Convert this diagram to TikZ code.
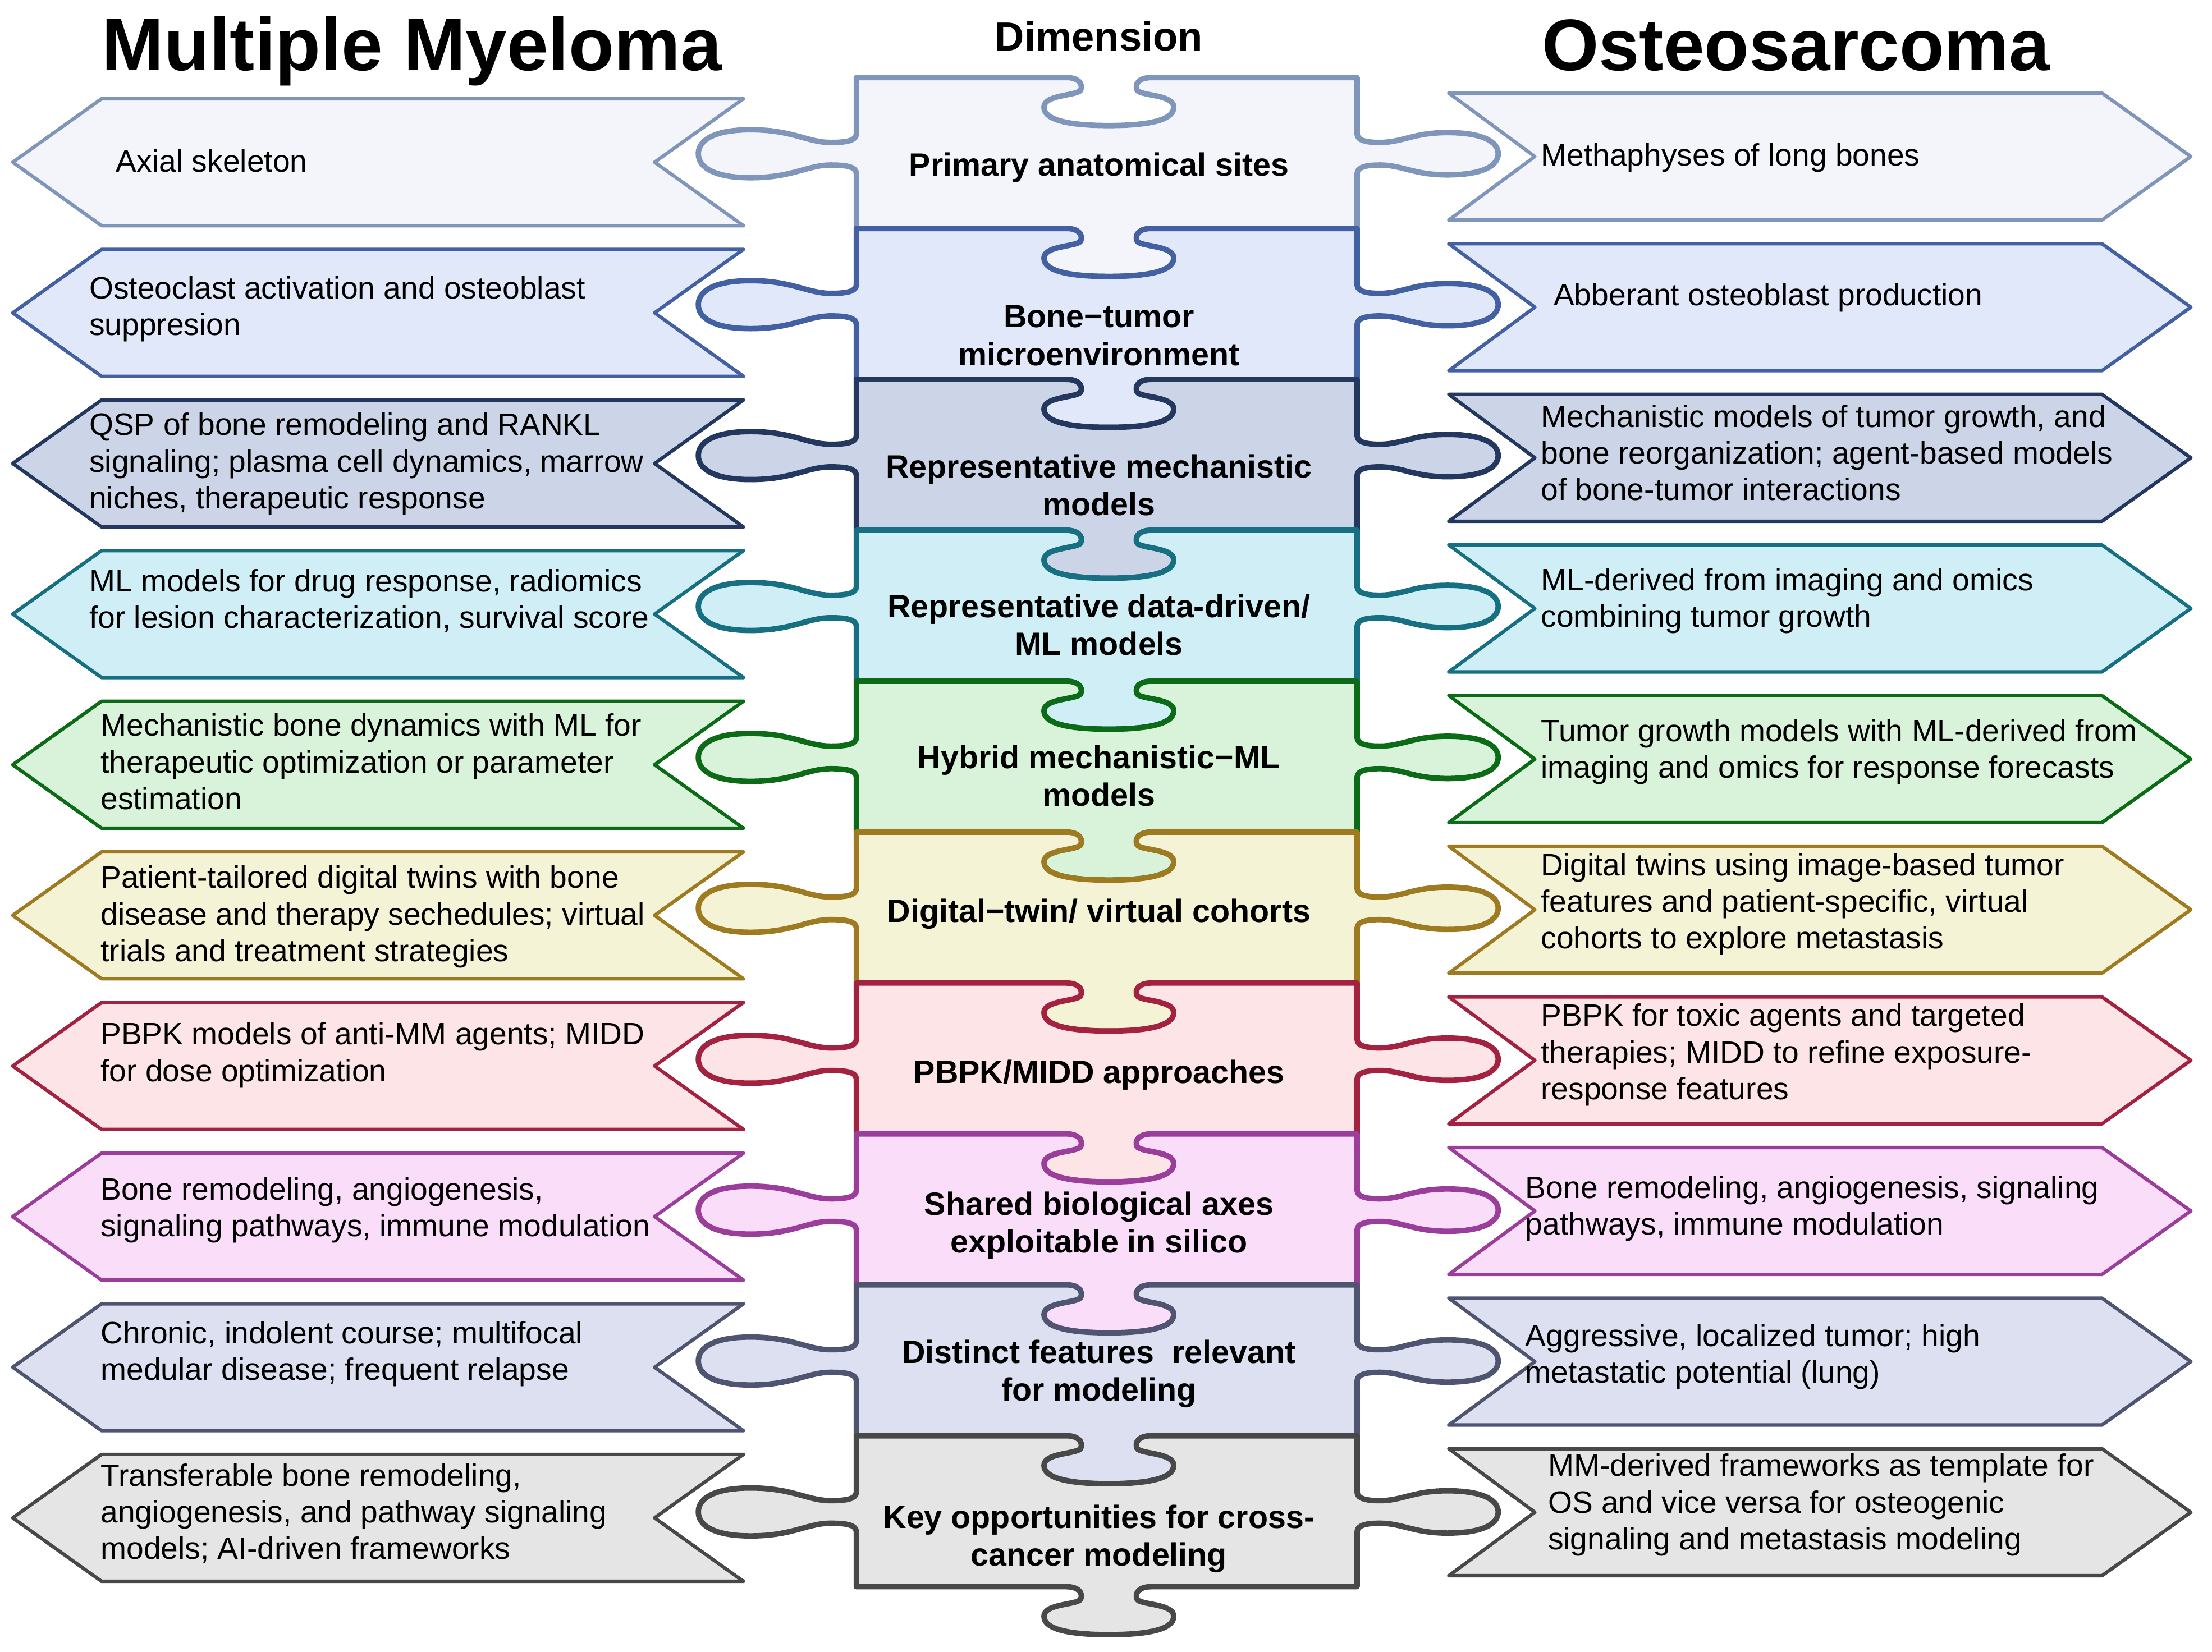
\documentclass[tikz,border=0pt]{standalone}
\usepackage{fontspec}
\setmainfont{Liberation Sans}
\definecolor{ln1}{HTML}{7F95BA} \definecolor{fl1}{HTML}{F4F5FA}
\definecolor{ln2}{HTML}{4360A3} \definecolor{fl2}{HTML}{E1E8FA}
\definecolor{ln3}{HTML}{23375F} \definecolor{fl3}{HTML}{CCD5E8}
\definecolor{ln4}{HTML}{177082} \definecolor{fl4}{HTML}{CFEEF6}
\definecolor{ln5}{HTML}{0B6B16} \definecolor{fl5}{HTML}{D8F3DA}
\definecolor{ln6}{HTML}{9E7B21} \definecolor{fl6}{HTML}{F5F3D5}
\definecolor{ln7}{HTML}{A3223F} \definecolor{fl7}{HTML}{FDE4E7}
\definecolor{ln8}{HTML}{9B3E9B} \definecolor{fl8}{HTML}{FADDF8}
\definecolor{ln9}{HTML}{4F5570} \definecolor{fl9}{HTML}{DDE0F0}
\definecolor{ln10}{HTML}{484848} \definecolor{fl10}{HTML}{E5E5E5}
\tikzset{
  x=0.02cm,
  y=-0.02cm,
  piece/.style={line width=2.2pt, line join=round},
  chevron/.style={line width=1.4pt, line join=round},
  side text/.style={anchor=west, align=left, inner sep=0pt,
    font=\fontsize{12.5}{14.8}\selectfont},
  dim text/.style={align=center, inner sep=0pt,
    font=\bfseries\fontsize{13}{15.3}\selectfont},
  heading/.style={anchor=base, inner sep=0pt, font=\bfseries\fontsize{30}{36}\selectfont},
}
% one jigsaw piece of the middle column: #1 top edge, #2 colour number
\newcommand{\puzzlepiece}[2]{%
  \draw[piece, draw=ln#2, fill=fl#2, shift={(0,#1)}]
    (607,0) -- (756,0)
    .. controls (764,0) and (768,4) .. (766,9)
    .. controls (763,13) and (740,12) .. (740,21)
    .. controls (740,31) and (761,34) .. (786,34)
    .. controls (811,34) and (832,31) .. (832,21)
    .. controls (832,12) and (809,13) .. (806,9)
    .. controls (804,4) and (808,0) .. (816,0)
    -- (962,0) -- (962,40)
    .. controls (962,45) and (970,46) .. (978,46)
    .. controls (994,46) and (1002,39) .. (1026,39)
    .. controls (1050,39) and (1062,45) .. (1062,54)
    .. controls (1062,63) and (1050,69) .. (1026,69)
    .. controls (1002,69) and (994,62) .. (978,62)
    .. controls (970,62) and (962,63) .. (962,68)
    -- (962,107) -- (816,107)
    .. controls (808,107) and (804,111) .. (806,116)
    .. controls (809,120) and (832,119) .. (832,128)
    .. controls (832,138) and (811,141) .. (786,141)
    .. controls (761,141) and (740,138) .. (740,128)
    .. controls (740,119) and (763,120) .. (766,116)
    .. controls (768,111) and (764,107) .. (756,107)
    -- (607,107) -- (607,68)
    .. controls (607,63) and (599,62) .. (589,62)
    .. controls (572,62) and (562,71) .. (532,71)
    .. controls (507,71) and (495,64) .. (495,54)
    .. controls (495,44) and (507,37) .. (532,37)
    .. controls (562,37) and (572,46) .. (589,46)
    .. controls (599,46) and (607,45) .. (607,40)
    -- cycle;
}

\begin{document}
\begin{tikzpicture}
  \useasboundingbox (0,0) rectangle (1568,1171);

  \foreach \k in {1,...,10}{
    \pgfmathsetmacro\piecetop{55+107*(\k-1)}
    \pgfmathsetmacro\mmtop{70+106.8*(\k-1)}
    \pgfmathsetmacro\ostop{66+106.8*(\k-1)}
    \draw[chevron, draw=ln\k, fill=fl\k, shift={(0,\mmtop)}]
      (72,0) -- (527,0) -- (464,45) -- (527,90) -- (72,90) -- (9,45) -- cycle;
    \draw[chevron, draw=ln\k, fill=fl\k, shift={(0,\ostop)}]
      (1027,0) -- (1490,0) -- (1553,45) -- (1490,90) -- (1027,90) -- (1088,45) -- cycle;
    \puzzlepiece{\piecetop}{\k}
  }

  \node[heading] (mmhead)  at (292,50)  {Multiple Myeloma};
  \node[heading, font=\bfseries\fontsize{16.4}{20}\selectfont] (dimhead) at (779,36) {Dimension};
  \node[heading, font=\bfseries\fontsize{29.5}{36}\selectfont] (oshead)  at (1273,50) {Osteosarcoma};

  \node[dim text] (dim1)  at (779,119)  {Primary anatomical sites};
  \node[dim text] (dim2)  at (779,238)  {Bone−tumor\\microenvironment};
  \node[dim text] (dim3)  at (779,344)  {Representative mechanistic\\models};
  \node[dim text] (dim4)  at (779,443)  {Representative data-driven/\\ML models};
  \node[dim text] (dim5)  at (779,550)  {Hybrid mechanistic−ML\\models};
  \node[dim text] (dim6)  at (779,648)  {Digital−twin/ virtual cohorts};
  \node[dim text] (dim7)  at (779,762)  {PBPK/MIDD approaches};
  \node[dim text] (dim8)  at (779,869)  {Shared biological axes\\exploitable in silico};
  \node[dim text] (dim9)  at (779,974)  {Distinct features\ \ relevant\\for modeling};
  \node[dim text] (dim10) at (779,1091) {Key opportunities for cross-\\cancer modeling};

  \node[side text] (mm1)  at (82,114)  {Axial skeleton};
  \node[side text] (mm2)  at (63,219)  {Osteoclast activation and osteoblast\\suppresion};
  \node[side text] (mm3)  at (63,329)  {QSP of bone remodeling and RANKL\\signaling; plasma cell dynamics, marrow\\niches, therapeutic response};
  \node[side text] (mm4)  at (63,426)  {ML models for drug response, radiomics\\for lesion characterization, survival score};
  \node[side text] (mm5)  at (71,540)  {Mechanistic bone dynamics with ML for\\therapeutic optimization or parameter\\estimation};
  \node[side text] (mm6)  at (71,650)  {Patient-tailored digital twins with bone\\disease and therapy sechedules; virtual\\trials and treatment strategies};
  \node[side text] (mm7)  at (71,748)  {PBPK models of anti-MM agents; MIDD\\for dose optimization};
  \node[side text] (mm8)  at (71,858)  {Bone remodeling, angiogenesis,\\signaling pathways, immune modulation};
  \node[side text] (mm9)  at (71,960)  {Chronic, indolent course; multifocal\\medular disease; frequent relapse};
  \node[side text] (mm10) at (71,1073) {Transferable bone remodeling,\\angiogenesis, and pathway signaling\\models; AI-driven frameworks};

  \node[side text] (os1)  at (1092,112)  {Methaphyses of long bones};
  \node[side text] (os2)  at (1101,211)  {Abberant osteoblast production};
  \node[side text] (os3)  at (1092,321)  {Mechanistic models of tumor growth, and\\bone reorganization; agent-based models\\of bone-tumor interactions};
  \node[side text] (os4)  at (1092,426)  {ML-derived from imaging and omics\\combining tumor growth};
  \node[side text] (os5)  at (1092,533)  {Tumor growth models with ML-derived from\\imaging and omics for response forecasts};
  \node[side text] (os6)  at (1092,641)  {Digital twins using image-based tumor\\features and patient-specific, virtual\\cohorts to explore metastasis};
  \node[side text] (os7)  at (1092,748)  {PBPK for toxic agents and targeted\\therapies; MIDD to refine exposure-\\response features};
  \node[side text] (os8)  at (1081,857)  {Bone remodeling, angiogenesis, signaling\\pathways, immune modulation};
  \node[side text] (os9)  at (1081,962)  {Aggressive, localized tumor; high\\metastatic potential (lung)};
  \node[side text] (os10) at (1097,1067) {MM-derived frameworks as template for\\OS and vice versa for osteogenic\\signaling and metastasis modeling};
\end{tikzpicture}
\end{document}
